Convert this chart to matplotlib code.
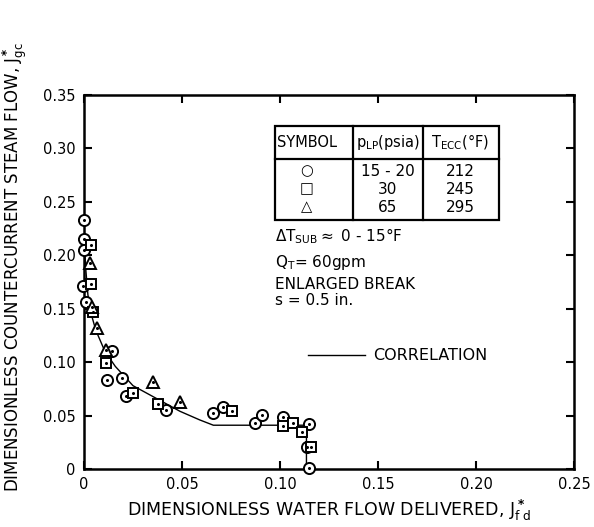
import matplotlib.pyplot as plt
from matplotlib.patches import Rectangle

plt.rcParams['font.family'] = ['DejaVu Sans']

# open circles, p_LP = 15-20 psia
circ_x = [0.0, 0.0, 0.0, -0.0005, 0.001, 0.0143, 0.0117, 0.0194, 0.0214, 0.042,
          0.066, 0.071, 0.087, 0.091, 0.1015, 0.115, 0.114, 0.115]
circ_y = [0.233, 0.215, 0.205, 0.171, 0.156, 0.110, 0.083, 0.085, 0.068, 0.055,
          0.052, 0.058, 0.043, 0.051, 0.049, 0.042, 0.021, 0.001]

# open squares, p_LP = 30 psia
sq_x = [0.0036, 0.0036, 0.0046, 0.011, 0.025, 0.038, 0.0755, 0.1015, 0.1066, 0.111, 0.116]
sq_y = [0.210, 0.173, 0.147, 0.099, 0.071, 0.061, 0.054, 0.040, 0.043, 0.035, 0.021]

# open triangles, p_LP = 65 psia
tri_x = [0.003, 0.004, 0.0066, 0.011, 0.035, 0.049]
tri_y = [0.193, 0.152, 0.132, 0.111, 0.081, 0.063]

# correlation curve
corr_x = [0.0, 0.001, 0.002, 0.004, 0.006, 0.0107, 0.016, 0.025, 0.038, 0.049, 0.059, 0.066, 0.1135, 0.1135]
corr_y = [0.215, 0.185, 0.163, 0.143, 0.130, 0.110, 0.096, 0.078, 0.065, 0.054, 0.046, 0.041, 0.041, 0.0]

xticks = [0, 0.05, 0.10, 0.15, 0.20, 0.25]
xtick_labels = ["0", "0.05", "0.10", "0.15", "0.20", "0.25"]
yticks = [0, 0.05, 0.10, 0.15, 0.20, 0.25, 0.30, 0.35]
ytick_labels = ["0", "0.05", "0.10", "0.15", "0.20", "0.25", "0.30", "0.35"]

fig = plt.figure(figsize=(5.94, 5.27), dpi=100)
ax = fig.add_axes([0.1414, 0.110, 0.8249, 0.7097])

ax.plot(corr_x, corr_y, color="black", lw=1.0, zorder=2)

mk = dict(linestyle="none", markerfacecolor="white", markeredgecolor="black",
          markeredgewidth=1.4, zorder=3, clip_on=False)
ax.plot(circ_x, circ_y, marker="o", markersize=8, **mk)
ax.plot(sq_x, sq_y, marker="s", markersize=7.5, **mk)
ax.plot(tri_x, tri_y, marker="^", markersize=8, **mk)
# little dot in the middle of each symbol
for xs, ys in [(circ_x, circ_y), (sq_x, sq_y), (tri_x, tri_y)]:
    ax.plot(xs, ys, linestyle="none", marker="o", markersize=1.2,
            color="black", zorder=4, clip_on=False)

ax.set_xlim(0, 0.25)
ax.set_ylim(0, 0.35)
ax.set_xticks(xticks)
ax.set_xticklabels(xtick_labels)
ax.set_yticks(yticks)
ax.set_yticklabels(ytick_labels)
ax.tick_params(direction="in", length=6, width=1.5, labelsize=10.5,
               top=True, right=True, pad=6)
for sp in ax.spines.values():
    sp.set_linewidth(1.8)

ax.set_xlabel(r"DIMENSIONLESS WATER FLOW DELIVERED, J$^{\bf *}_{\rm f\ d}$",
              fontsize=12.5, labelpad=4)
ax.set_ylabel(r"DIMENSIONLESS COUNTERCURRENT STEAM FLOW, J$^{\bf *}_{\rm gc}$",
              fontsize=12)
ax.yaxis.set_label_coords(-0.112, 0.54)

# table of symbols
def px(x):
    return (x - 84) / 490.0

def py(y):
    return (469 - y) / 374.0

tr = ax.transAxes
ax.add_patch(Rectangle((px(275), py(220)), px(499) - px(275), py(126) - py(220),
                       transform=tr, fill=False, lw=1.6, ec="black"))
ax.plot([px(275), px(499)], [py(159), py(159)], transform=tr, color="black", lw=1.6)
for cx in [353, 423]:
    ax.plot([px(cx), px(cx)], [py(126), py(220)], transform=tr, color="black", lw=1.6)

fs = 10.5
ax.text(px(307), py(142), "SYMBOL", transform=tr, ha="center", va="center", fontsize=fs)
ax.text(px(388), py(142), r"p$_{\rm LP}$(psia)", transform=tr, ha="center", va="center", fontsize=fs)
ax.text(px(460), py(142), r"T$_{\rm ECC}$($\degree$F)", transform=tr, ha="center", va="center", fontsize=fs)

rows_sym = ["○", "□", "△"]
rows_p = ["15 - 20", "30", "65"]
rows_t = ["212", "245", "295"]
for i, yy in enumerate([171, 189, 207]):
    ax.text(px(307), py(yy), rows_sym[i], transform=tr, ha="center", va="center", fontsize=fs)
    ax.text(px(388), py(yy), rows_p[i], transform=tr, ha="center", va="center", fontsize=fs + 0.5)
    ax.text(px(460), py(yy), rows_t[i], transform=tr, ha="center", va="center", fontsize=fs + 0.5)

ax.text(px(275), py(236), r"$\Delta$T$_{\rm SUB}$$\approx$ 0 - 15$\degree$F", transform=tr,
        ha="left", va="center", fontsize=11)
ax.text(px(275), py(262), r"Q$_{\rm T}$= 60gpm", transform=tr, ha="left", va="center", fontsize=11)
ax.text(px(275), py(284), "ENLARGED BREAK", transform=tr, ha="left", va="center", fontsize=11)
ax.text(px(275), py(300), "s = 0.5 in.", transform=tr, ha="left", va="center", fontsize=11)

ax.plot([px(308), px(365)], [py(355), py(355)], transform=tr, color="black", lw=1.0)
ax.text(px(373), py(355), "CORRELATION", transform=tr, ha="left", va="center", fontsize=11.5)

fig.savefig("out.png", dpi=100)
